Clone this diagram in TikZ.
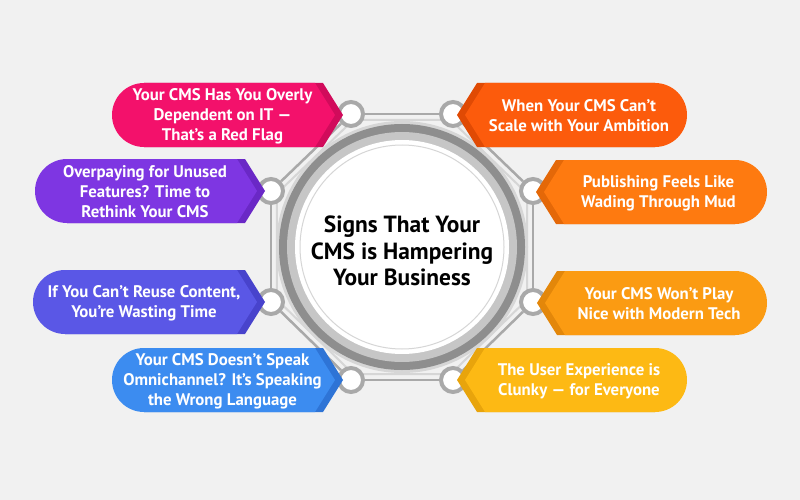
\documentclass[tikz,border=0pt]{standalone}
\usepackage{fontspec}
\setmainfont{PT Sans}
\usetikzlibrary{calc}
\definecolor{bgc}{HTML}{F1F1F1}
\definecolor{pinkA}{HTML}{F3116B}\definecolor{pinkB}{HTML}{D10B5B}
\definecolor{purA}{HTML}{7E36E2}\definecolor{purB}{HTML}{6A28C6}
\definecolor{indA}{HTML}{5A57E6}\definecolor{indB}{HTML}{4843CC}
\definecolor{bluA}{HTML}{3C8CF0}\definecolor{bluB}{HTML}{2E74D6}
\definecolor{redA}{HTML}{FC5B0C}\definecolor{redB}{HTML}{E04A04}
\definecolor{oraA}{HTML}{FE7A10}\definecolor{oraB}{HTML}{E46808}
\definecolor{ambA}{HTML}{FB9B12}\definecolor{ambB}{HTML}{E3870A}
\definecolor{yelA}{HTML}{FDB914}\definecolor{yelB}{HTML}{E8A40C}
\definecolor{ringD}{HTML}{8E8E8E}\definecolor{ringL}{HTML}{C6C6C6}
\definecolor{lineD}{HTML}{A9A9A9}\definecolor{lineL}{HTML}{D6D6D6}
\newcommand\lban[7]{%
 \fill[#5] (#1+32,#3-32) -- (#2-20,#3-32) -- (#2,#3) -- (#2-20,#3+32) -- (#1+32,#3+32) -- cycle;
 \fill[#4] (#1+32,#3-32) -- (#2-28,#3-32) -- (#2-8,#3) -- (#2-28,#3+32) -- (#1+32,#3+32) -- cycle;
 \fill[#4] (#1+32,#3) circle[radius=32pt];
 \node[bantext] (#6) at ({(#1+#2)/2-5},#3+1) {#7};
}
\newcommand\rban[7]{%
 \fill[#5] (#1,#3) -- (#1+20,#3-32) -- (#2-32,#3-32) -- (#2-32,#3+32) -- (#1+20,#3+32) -- cycle;
 \fill[#4] (#1+8,#3) -- (#1+28,#3-32) -- (#2-32,#3-32) -- (#2-32,#3+32) -- (#1+28,#3+32) -- cycle;
 \fill[#4] (#2-32,#3) circle[radius=32pt];
 \node[bantext] (#6) at ({(#1+#2)/2+7},#3+1) {#7};
}
\begin{document}
\begin{tikzpicture}[x=1pt,y=-1pt,
  bantext/.style={text=white,font=\bfseries\fontsize{16.8}{20}\selectfont,align=center,inner sep=0pt},
  dot/.style={circle,draw=lineD,line width=4pt,fill=white,minimum size=24pt,inner sep=0pt},
  octD/.style={draw=lineD,line width=2.5pt},
  octL/.style={draw=lineL,line width=2pt}]
\fill[bgc] (0,0) rectangle (800,500);
\useasboundingbox (0,0) rectangle (800,500);
\coordinate (ctr) at (402,247);
% connector circle positions
\path (351,114) coordinate (p1) (453,114) coordinate (p2) (533,191) coordinate (p3) (533,302) coordinate (p4)
      (453,380) coordinate (p5) (351,380) coordinate (p6) (271,302) coordinate (p7) (271,191) coordinate (p8);
% inner light octagon
\draw[octL] ($(ctr)!0.955!(p1)$) -- ($(ctr)!0.955!(p2)$) -- ($(ctr)!0.955!(p3)$) -- ($(ctr)!0.955!(p4)$)
  -- ($(ctr)!0.955!(p5)$) -- ($(ctr)!0.955!(p6)$) -- ($(ctr)!0.955!(p7)$) -- ($(ctr)!0.955!(p8)$) -- cycle;
% ring
\fill[lineL] (ctr) circle[radius=126pt];
\fill[ringD] (ctr) circle[radius=123pt];
\fill[ringL] (ctr) circle[radius=115pt];
\fill[white] (ctr) circle[radius=107pt];
\draw[lineL,line width=1pt] (ctr) circle[radius=102pt];
\node[font=\bfseries\fontsize{23.4}{26.5}\selectfont,align=center,text=black] (title) at (402,251)
  {Signs That Your\\CMS is Hampering\\Your Business};
% nodes on octagon
\foreach \i in {1,...,8} {\node[dot] (c\i) at (p\i) {};}
\draw[octD] (c1) -- (c2);
\draw[octD] (c2) -- (c3);
\draw[octD] (c3) -- (c4);
\draw[octD] (c4) -- (c5);
\draw[octD] (c5) -- (c6);
\draw[octD] (c6) -- (c7);
\draw[octD] (c7) -- (c8);
\draw[octD] (c8) -- (c1);
% banners
\lban{112}{343}{115}{pinkA}{pinkB}{b1}{Your CMS Has You Overly\\Dependent on IT —\\That’s a Red Flag}
\lban{35}{265}{191}{purA}{purB}{b2}{Overpaying for Unused\\Features? Time to\\Rethink Your CMS}
\lban{33}{265}{302}{indA}{indB}{b3}{If You Can’t Reuse Content,\\You’re Wasting Time}
\lban{112}{343}{380}{bluA}{bluB}{b4}{Your CMS Doesn’t Speak\\Omnichannel? It’s Speaking\\the Wrong Language}
\rban{457}{687}{115}{redA}{redB}{b5}{When Your CMS Can’t\\Scale with Your Ambition}
\rban{536}{767}{192}{oraA}{oraB}{b6}{Publishing Feels Like\\Wading Through Mud}
\rban{537}{767}{303}{ambA}{ambB}{b7}{Your CMS Won’t Play\\Nice with Modern Tech}
\rban{457}{687}{380}{yelA}{yelB}{b8}{The User Experience is\\Clunky — for Everyone}
\end{tikzpicture}
\end{document}
